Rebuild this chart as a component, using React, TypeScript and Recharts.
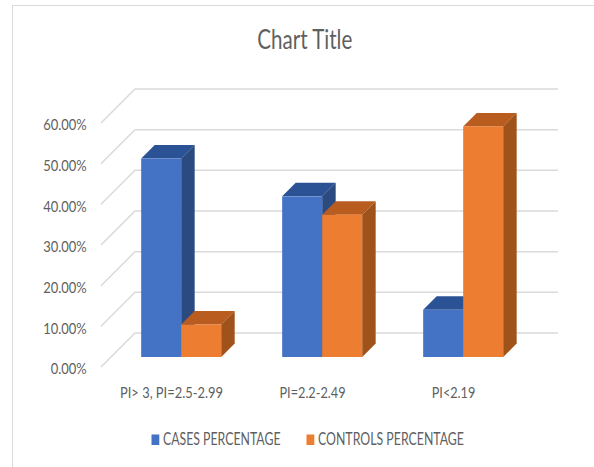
import React from 'react';
import { BarChart, Bar, XAxis, YAxis, CartesianGrid, Legend } from 'recharts';

const categories = ['PI> 3, PI=2.5-2.99', 'PI=2.2-2.49', 'PI<2.19'];
const casesValues = [48.8, 39.5, 11.6];
const controlsValues = [8.0, 35.0, 56.7];
const yTicks = [0, 10, 20, 30, 40, 50, 60];

const data = categories.map((name, i) => ({
  name,
  cases: casesValues[i],
  controls: controlsValues[i],
}));

// the original text is squeezed sideways, so each label gets its measured width
const xLabelWidths = [103, 66, 43.5];
const legendWidths = [117.5, 146];
const legendLefts = [151.5, 306.5];

const FONT = 'Lato, "Open Sans", sans-serif';
const TEXT = '#5f5f5f';
const GRID = '#dadada';
const DEPTH = 13.5;

function Box3D({ x, y, width, height, front, top, side }: any) {
  const d = DEPTH;
  return (
    <g>
      <polygon
        points={`${x},${y} ${x + d},${y - d} ${x + width + d},${y - d} ${x + width},${y}`}
        fill={top}
      />
      <polygon
        points={`${x + width},${y} ${x + width + d},${y - d} ${x + width + d},${y + height - d} ${x + width},${y + height}`}
        fill={side}
      />
      <rect x={x} y={y} width={width} height={height} fill={front} />
    </g>
  );
}

// back wall line plus the diagonal on the left side wall
function WallLine({ x1, x2, y1 }: any) {
  return (
    <polyline
      points={`${x1 - 10},${y1 + 10} ${x1 + 24},${y1 - 24} ${x2 + 24},${y1 - 24}`}
      fill="none"
      stroke={GRID}
      strokeWidth={1.5}
    />
  );
}

function YTick({ y, payload }: any) {
  const label = `${payload.value.toFixed(2)}%`;
  return (
    <text
      x={86.7}
      y={y + 17.3}
      textAnchor="end"
      fontFamily={FONT}
      fontSize={16}
      fill={TEXT}
      textLength={label.length === 5 ? 36 : 43.5}
      lengthAdjust="spacingAndGlyphs"
    >
      {label}
    </text>
  );
}

function XTick({ x, payload, index }: any) {
  return (
    <text
      x={x - 10}
      y={398}
      textAnchor="middle"
      fontFamily={FONT}
      fontSize={16}
      fill={TEXT}
      textLength={xLabelWidths[index]}
      lengthAdjust="spacingAndGlyphs"
    >
      {payload.value}
    </text>
  );
}

function LegendBox({ payload }: any) {
  return (
    <svg width={594} height={30} style={{ display: 'block' }}>
      {(payload || []).map((p: any, i: number) => (
        <g key={p.value}>
          <rect x={legendLefts[i]} y={4.5} width={7.8} height={10.5} fill={p.color} />
          <text
            x={legendLefts[i] + 11.5}
            y={15}
            fontFamily={FONT}
            fontSize={17}
            fill={TEXT}
            textLength={legendWidths[i]}
            lengthAdjust="spacingAndGlyphs"
          >
            {p.value}
          </text>
        </g>
      ))}
    </svg>
  );
}

export default function App() {
  return (
    <div style={{ position: 'absolute', left: 0, top: 0, width: 594, height: 467, background: '#fff', overflow: 'hidden' }}>
      <div style={{ position: 'absolute', left: 12, top: 5, width: 582, height: 462, borderLeft: '1px solid #d9d9d9', borderTop: '1px solid #d9d9d9', boxSizing: 'border-box' }} />
      <BarChart
        width={594}
        height={467}
        data={data}
        margin={{ top: 113, right: 60, bottom: 70, left: 0 }}
        barGap={0}
        barCategoryGap="21.4%"
      >
        <text x={304.8} y={49.3} textAnchor="middle" fontFamily={FONT} fontSize={27} fill={TEXT} textLength={95} lengthAdjust="spacingAndGlyphs">
          Chart Title
        </text>
        <CartesianGrid vertical={false} horizontal={(props: any) => <WallLine key={props.index} {...props} />} />
        <XAxis dataKey="name" height={40} axisLine={false} tickLine={false} tick={<XTick />} interval={0} />
        <YAxis width={111} domain={[0, 60]} ticks={yTicks} axisLine={false} tickLine={false} tick={<YTick />} />
        <Bar dataKey="cases" name="CASES PERCENTAGE" fill="#4472C4" isAnimationActive={false}
          shape={(p: any) => <Box3D {...p} front="#4472C4" top="#2C5296" side="#2A4A80" />} />
        <Bar dataKey="controls" name="CONTROLS PERCENTAGE" fill="#ED7D31" isAnimationActive={false}
          shape={(p: any) => <Box3D {...p} front="#ED7D31" top="#B85C20" side="#9F5219" />} />
        <Legend verticalAlign="middle" content={<LegendBox />} wrapperStyle={{ top: 430, left: 0, width: 594 }} />
      </BarChart>
    </div>
  );
}
